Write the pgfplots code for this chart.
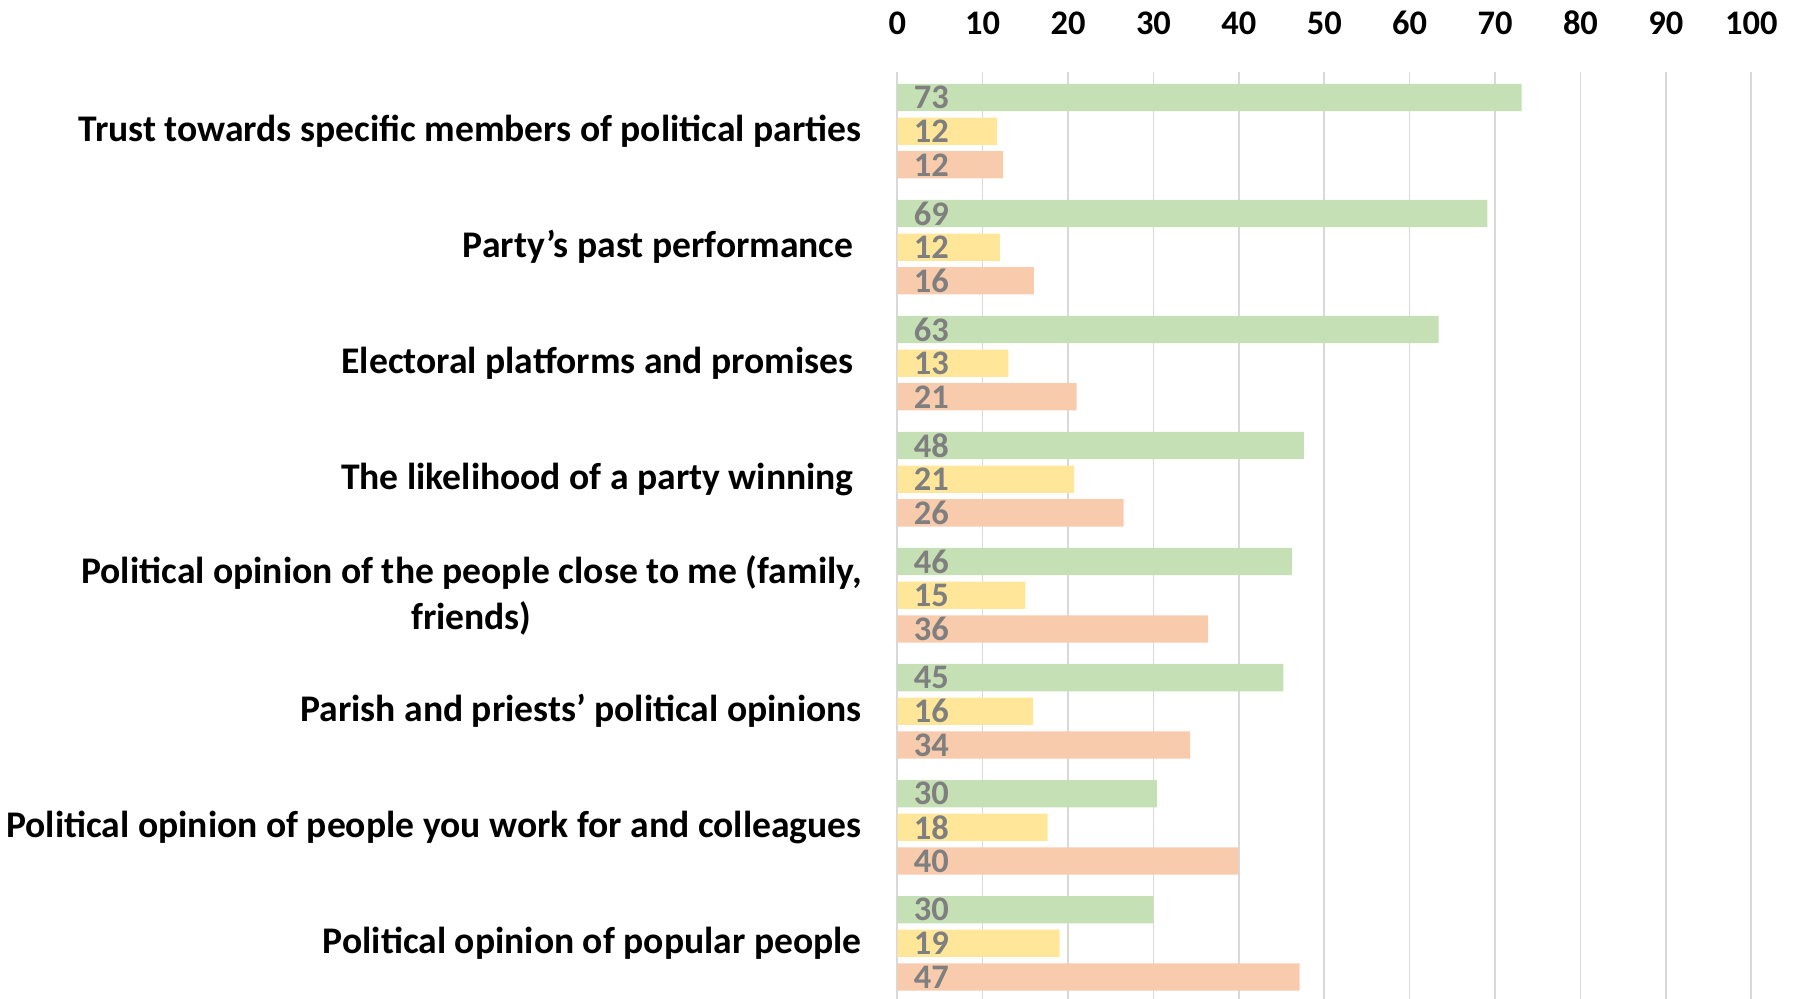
\documentclass[border=0pt]{standalone}
\usepackage{fontspec}
\setmainfont{Carlito}
\usepackage{pgfplots}
\pgfplotsset{compat=1.18}
\usepackage{pgfplotstable}
\definecolor{cg}{HTML}{C5E0B4}
\definecolor{cy}{HTML}{FFE699}
\definecolor{co}{HTML}{F8CBAD}
\definecolor{labc}{HTML}{7F7F7F}
\definecolor{gridc}{HTML}{D9D9D9}

\pgfplotstableread{
y g gl yv yl o ol
0 73.1 73 11.7 12 12.4 12
1 69.1 69 12.0 12 16.0 16
2 63.4 63 13.0 13 21.0 21
3 47.6 48 20.7 21 26.5 26
4 46.2 46 15.0 15 36.4 36
5 45.2 45 15.9 16 34.3 34
6 30.4 30 17.6 18 39.9 40
7 30.0 30 19.0 19 47.1 47
}\data

\begin{document}
\begin{tikzpicture}[x=1cm,y=1cm]
\useasboundingbox (-8.973,0) rectangle (9.027,9.99);
\begin{axis}[
  at={(0,0)}, anchor=south west,
  scale only axis, width=8.54cm, height=9.27cm,
  xmin=0, xmax=100, ymin=-0.51, ymax=7.48,
  y dir=reverse,
  xbar, bar width=0.235,
  axis line style={draw=none},
  major tick length=0pt,
  xmajorgrids, grid style={gridc, line width=0.45pt},
  xtick={0,10,...,100},
  xticklabel pos=upper,
  xticklabel style={font=\fontsize{9.8}{11}\selectfont\bfseries, inner sep=0pt, anchor=base, yshift=0.37cm},
  /pgf/number format/assume math mode=true,
  ytick={0,...,7},
  yticklabels={
    {Trust towards specific members of political parties},
    {Party’s past performance\hspace{0.08cm}},
    {Electoral platforms and promises\hspace{0.08cm}},
    {The likelihood of a party winning\hspace{0.08cm}},
    {Political opinion of the people close to me (family,\hspace{0.08cm}\\friends)},
    {Parish and priests’ political opinions},
    {Political opinion of people you work for and colleagues},
    {Political opinion of popular people}},
  yticklabel style={font=\fontsize{10.7}{13.1}\selectfont\bfseries, align=center, inner sep=0pt, anchor=east, xshift=-0.35cm},
  nodes near coords style={font=\fontsize{9.8}{11}\selectfont\bfseries, text=labc, inner sep=0pt, anchor=west, xshift=0.16cm},
]
\addplot[xbar, bar shift=-0.29, fill=cg, draw=none] table[x=g, y=y] \data;
\addplot[xbar, bar shift=0, fill=cy, draw=none] table[x=yv, y=y] \data;
\addplot[xbar, bar shift=0.29, fill=co, draw=none] table[x=o, y=y] \data;
\addplot[xbar, bar shift=-0.29, draw=none, fill=none, nodes near coords, point meta=explicit symbolic] table[x expr=0, y=y, meta=gl] \data;
\addplot[xbar, bar shift=0, draw=none, fill=none, nodes near coords, point meta=explicit symbolic] table[x expr=0, y=y, meta=yl] \data;
\addplot[xbar, bar shift=0.29, draw=none, fill=none, nodes near coords, point meta=explicit symbolic] table[x expr=0, y=y, meta=ol] \data;
\end{axis}
\end{tikzpicture}
\end{document}
